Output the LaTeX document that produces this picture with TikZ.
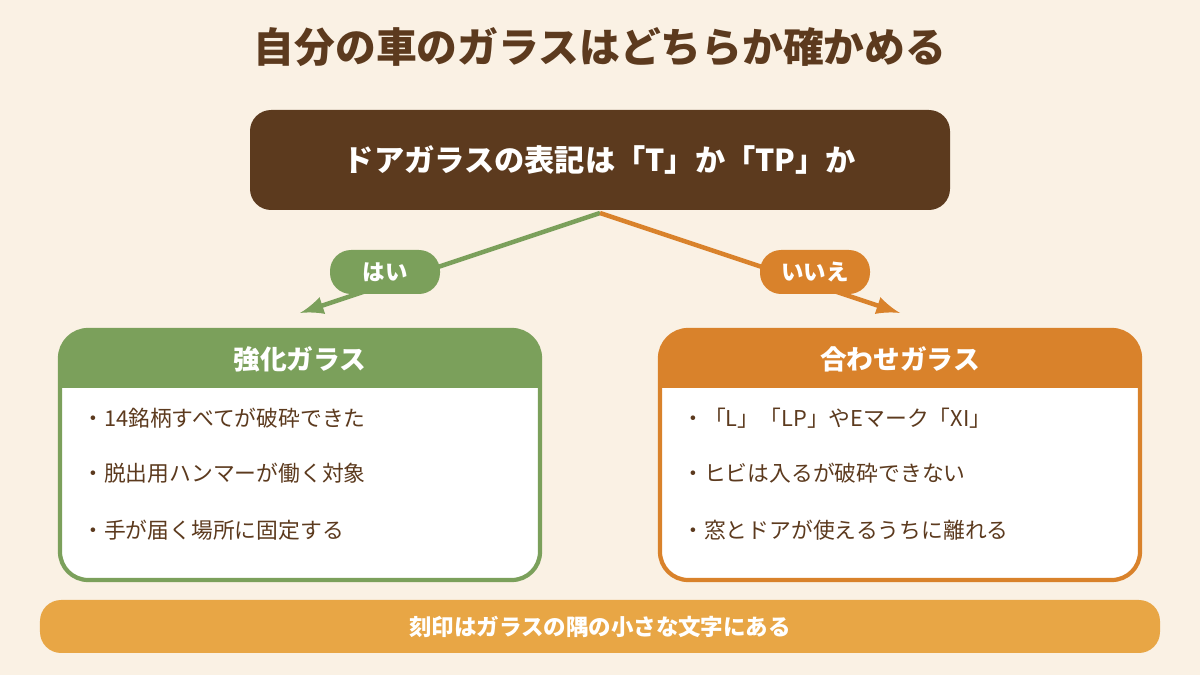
\documentclass[tikz,border=0pt]{standalone}
\usepackage{fontspec}
\setmainfont{Noto Sans CJK JP}
\usetikzlibrary{positioning}
\definecolor{cream}{HTML}{FAF1E4}
\definecolor{brown}{HTML}{5C3A1E}
\definecolor{leaf}{HTML}{7BA05B}
\definecolor{amber}{HTML}{D9822B}
\definecolor{sand}{HTML}{E8A645}
\tikzset{
  pill/.style={rounded corners=6pt, text=white, font=\fontsize{6.4}{7}\selectfont\bfseries, minimum width=1.1cm, minimum height=0.44cm},
  item/.style={anchor=west, text=brown, font=\fontsize{6.2}{7}\selectfont},
  head/.style={text=white, font=\fontsize{7.6}{9}\selectfont\bfseries},
}
\begin{document}
\begin{tikzpicture}
		\fill[cream] (0,0) rectangle (12,6.75);
		\useasboundingbox (0,0) rectangle (12,6.75);
		
		\node[text=brown, font=\fontsize{11.6}{13}\selectfont\bfseries] (title) at (6,6.28) {自分の車のガラスはどちらか確かめる};
		
		\fill[brown, rounded corners=6pt] (2.5,4.65) rectangle (9.5,5.65);
		\node[head, font=\fontsize{8.6}{10}\selectfont\bfseries] (q) at (6,5.15) {ドアガラスの表記は「T」か「TP」か};
		\coordinate (qb) at (6,4.62);
		
		% yes box
		\draw[leaf, line width=1.2pt, fill=white, rounded corners=8pt] (0.6,0.95) rectangle (5.4,3.45);
		\fill[leaf, rounded corners=8pt] (0.6,2.87) rectangle (5.4,3.45);
		\fill[leaf] (0.6,2.87) rectangle (5.4,3.1);
		\node[head] (yes) at (3,3.16) {強化ガラス};
		\node[item] at (0.7,2.57) {・14銘柄すべてが破砕できた};
		\node[item] at (0.7,2.02) {・脱出用ハンマーが働く対象};
		\node[item] at (0.7,1.45) {・手が届く場所に固定する};
		
		% no box
		\draw[amber, line width=1.2pt, fill=white, rounded corners=8pt] (6.6,0.95) rectangle (11.4,3.45);
		\fill[amber, rounded corners=8pt] (6.6,2.87) rectangle (11.4,3.45);
		\fill[amber] (6.6,2.87) rectangle (11.4,3.1);
		\node[head] (no) at (9,3.16) {合わせガラス};
		\node[item] at (6.7,2.57) {・「L」「LP」やEマーク「XI」};
		\node[item] at (6.7,2.02) {・ヒビは入るが破砕できない};
		\node[item] at (6.7,1.45) {・窓とドアが使えるうちに離れる};
		
		\coordinate (ya) at (3,3.62);
		\coordinate (na) at (9,3.62);
		\draw[leaf, line width=1.3pt, -latex] (qb) -- (ya);
		\draw[amber, line width=1.3pt, -latex] (qb) -- (na);
		\node[pill, fill=leaf] (yl) at (3.85,4.03) {はい};
		\node[pill, fill=amber] (nl) at (8.15,4.03) {いいえ};
		
		\fill[sand, rounded corners=6pt] (0.4,0.22) rectangle (11.6,0.75);
		\node[text=white, font=\fontsize{6.4}{7}\selectfont\bfseries] (note) at (6,0.485) {刻印はガラスの隅の小さな文字にある};
\end{tikzpicture}
\end{document}
